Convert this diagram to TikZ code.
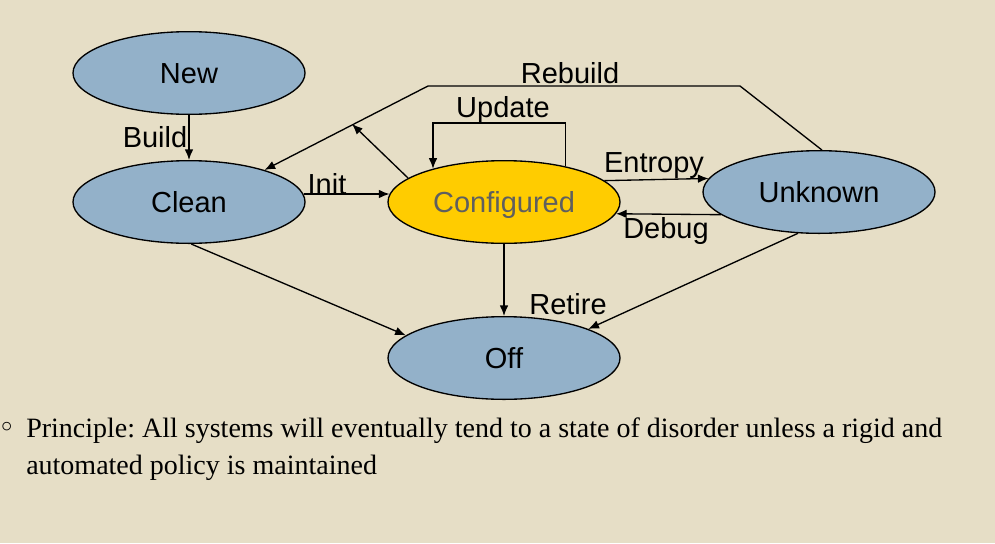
\documentclass[tikz,border=0pt]{standalone}
\usepackage{fontspec}
\setmainfont{Liberation Sans}
\newfontfamily\serifbody{Liberation Serif}
\newfontfamily\symfont{DejaVu Sans}
\usetikzlibrary{shapes.geometric,arrows.meta}
\definecolor{bg}{HTML}{E6DEC6}
\definecolor{stateblue}{HTML}{93B1C9}
\definecolor{stategold}{HTML}{FFCC00}
\definecolor{graytext}{HTML}{5F5F5F}
\frenchspacing
\begin{document}
\begin{tikzpicture}[x=0.75pt,y=-0.75pt,
  state/.style={ellipse,draw=black,line width=1pt,fill=stateblue,minimum width=174pt,minimum height=62pt,inner sep=0pt,text height=15.6pt,text depth=0pt,font=\fontsize{21.75}{24}\selectfont},
  edge/.style={line width=1pt,-{Latex[length=8pt,width=6.5pt]}},
  lbl/.style={font=\fontsize{21.75}{24}\selectfont,inner sep=0pt}]
\fill[bg] (0,0) rectangle (995,543);
\useasboundingbox (0,0) rectangle (995,543);

\node[state] (new) at (189,73) {New};
\node[state] (clean) at (189,202) {Clean};
\node[state,fill=stategold,text=graytext] (conf) at (504,202) {Configured};
\node[state] (unknown) at (819,192) {Unknown};
\node[state] (off) at (504,358) {Off};

% Build
\draw[edge] (new.south) -- (clean.north);
\node[lbl] (lbuild) at (155,137) {Build};
% Init
\draw[edge] (clean.4) -- (conf.176);
\node[lbl] (linit) at (327,184) {Init};
% Rebuild
\coordinate (rb1) at (740,86);
\coordinate (rb2) at (428,86);
\draw[edge] (unknown.86) -- (rb1) -- (rb2) -- (clean.23);
\node[lbl] (lrebuild) at (570,73) {Rebuild};
% arrow from Configured to the Rebuild line
\coordinate (rbmark) at (352,124);
\draw[edge] (conf.166) -- (rbmark);
% Update loop
\coordinate (u2) at (433,123);
\draw[edge] (conf.30) |- (u2) -- (u2 |- conf.155);
\node[lbl] (lupdate) at (503,110) {Update};
% Entropy
\draw[edge] (conf.12.65) -- (unknown.173.8);
\node[lbl] (lentropy) at (654,166) {Entropy};
% Debug
\draw[edge] (unknown.-167.4) -- (conf.-6.2);
\node[lbl] (ldebug) at (666,231) {Debug};
% to Off
\draw[edge] (conf.south) -- (off.north);
\draw[edge] (clean.-87) -- (off.167);
\draw[edge] (unknown.-117) -- (off.19);
\node[lbl] (lretire) at (568,304) {Retire};

% bullet text
\node[anchor=center,inner sep=0pt,font=\symfont\fontsize{22}{24}\selectfont] (bullet) at (7,430) {◦};
\node[anchor=base west,inner sep=0pt,align=left,font=\serifbody\fontsize{21}{27.75}\selectfont] (principle) at (26,474)
  {Principle: All systems will eventually tend to a state of disorder unless a rigid and\\automated policy is maintained};
\end{tikzpicture}
\end{document}
